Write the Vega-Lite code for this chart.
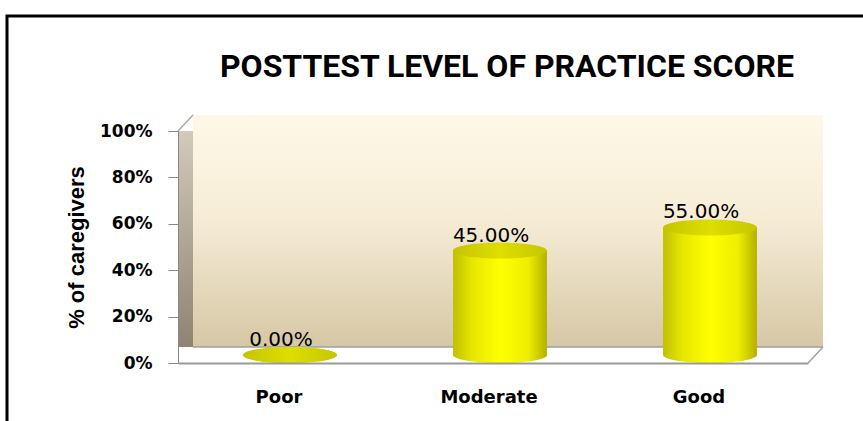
{
  "$schema": "https://vega.github.io/schema/vega-lite/v6.json",
  "width": 630,
  "height": 232,
  "autosize": {"type": "none"},
  "padding": {"left": 178, "top": 131, "right": 55, "bottom": 58},
  "background": "white",
  "config": {"view": {"stroke": null}},
  "title": {
    "text": "POSTTEST LEVEL OF PRACTICE SCORE",
    "font": "Roboto",
    "fontSize": 32,
    "fontWeight": "bold",
    "color": "black",
    "anchor": "middle",
    "dx": 14,
    "baseline": "alphabetic",
    "offset": -94
  },
  "data": {"values": [
    {"level": "Poor", "pct": 0},
    {"level": "Moderate", "pct": 0.45},
    {"level": "Good", "pct": 0.55}
  ]},
  "layer": [
    {
      "data": {"values": [{}]},
      "mark": {"type": "rect", "filled": false, "stroke": "black", "strokeWidth": 3, "width": 972, "yOffset": -115, "y2Offset": 80},
      "encoding": {
        "x": {"datum": "Moderate", "type": "nominal"},
        "y": {"datum": 1, "type": "quantitative"},
        "y2": {"datum": 0}
      }
    },
    {
      "data": {"values": [{}]},
      "mark": {"type": "rect", "width": 630, "fill": {"gradient": "linear", "x1": 0, "y1": 0, "x2": 0, "y2": 1, "stops": [{"offset": 0, "color": "#d2cabb"}, {"offset": 1, "color": "#8a7e6c"}]}},
      "encoding": {
        "x": {"datum": "Moderate", "type": "nominal"},
        "y": {"datum": 1, "type": "quantitative"},
        "y2": {"datum": 0}
      }
    },
    {
      "data": {"values": [{}]},
      "mark": {"type": "rect", "width": 630, "xOffset": 15, "yOffset": -16, "y2Offset": -16, "fill": {"gradient": "linear", "x1": 0, "y1": 0, "x2": 0, "y2": 1, "stops": [{"offset": 0, "color": "#fff8e8"}, {"offset": 0.45, "color": "#f6ecd6"}, {"offset": 1, "color": "#d6c7a5"}]}},
      "encoding": {
        "x": {"datum": "Moderate", "type": "nominal"},
        "y": {"datum": 1, "type": "quantitative"},
        "y2": {"datum": 0}
      }
    },
    {
      "data": {"values": [{}]},
      "mark": {"type": "rect", "fill": "white", "width": 645, "xOffset": 7.5, "y2Offset": -16},
      "encoding": {
        "x": {"datum": "Moderate", "type": "nominal"},
        "y": {"datum": 0, "type": "quantitative"},
        "y2": {"datum": 0}
      }
    },
    {
      "data": {"values": [{}]},
      "mark": {"type": "rect", "filled": false, "stroke": "#a0a0a0", "strokeWidth": 1.5, "width": 630, "xOffset": 15, "yOffset": -16, "y2Offset": -16},
      "encoding": {
        "x": {"datum": "Moderate", "type": "nominal"},
        "y": {"datum": 0, "type": "quantitative"},
        "y2": {"datum": 0}
      }
    },
    {
      "data": {"values": [{}]},
      "mark": {"type": "rule", "stroke": "#a0a0a0", "strokeWidth": 1.5, "xOffset": 105, "x2Offset": 120, "y2Offset": -16},
      "encoding": {
        "x": {"datum": "Good", "type": "nominal"},
        "x2": {"datum": "Good"},
        "y": {"datum": 0, "type": "quantitative"},
        "y2": {"datum": 0}
      }
    },
    {
      "data": {"values": [{}]},
      "mark": {"type": "rule", "stroke": "#b0a898", "strokeWidth": 1.5, "xOffset": -105, "x2Offset": -90, "y2Offset": -16},
      "encoding": {
        "x": {"datum": "Poor", "type": "nominal"},
        "x2": {"datum": "Poor"},
        "y": {"datum": 1, "type": "quantitative"},
        "y2": {"datum": 1}
      }
    },
    {
      "mark": {"type": "point", "shape": "M-1,0A1,0.17,0,1,1,1,0A1,0.17,0,1,1,-1,0Z", "size": 8836, "filled": true, "opacity": 1, "strokeWidth": 0, "xOffset": 7, "yOffset": -8,
        "fill": {"gradient": "linear", "x1": 0, "y1": 0, "x2": 1, "y2": 0, "stops": [{"offset": 0, "color": "#c0c000"}, {"offset": 0.2, "color": "#e6e600"}, {"offset": 0.5, "color": "#ffff00"}, {"offset": 0.8, "color": "#eeee00"}, {"offset": 1, "color": "#b4b000"}]}},
      "encoding": {
        "x": {"field": "level", "type": "nominal", "sort": ["Poor", "Moderate", "Good"]},
        "y": {"datum": 0, "type": "quantitative"}
      }
    },
    {
      "mark": {"type": "bar", "width": {"band": 0.447}, "xOffset": 7, "yOffset": -8, "y2Offset": -8,
        "fill": {"gradient": "linear", "x1": 0, "y1": 0, "x2": 1, "y2": 0, "stops": [{"offset": 0, "color": "#c0c000"}, {"offset": 0.2, "color": "#e6e600"}, {"offset": 0.5, "color": "#ffff00"}, {"offset": 0.8, "color": "#eeee00"}, {"offset": 1, "color": "#b4b000"}]}},
      "encoding": {
        "x": {
          "field": "level", "type": "nominal", "sort": ["Poor", "Moderate", "Good"],
          "scale": {"paddingInner": 0, "paddingOuter": 0},
          "axis": {"title": null, "labelAngle": 0, "labelAlign": "center", "labelBaseline": "top", "labelOffset": -4, "labelFont": "DejaVu Sans", "labelFontSize": 18, "labelFontWeight": "bold", "labelColor": "black", "labelPadding": 25, "ticks": false, "tickSize": 0, "domainColor": "#9a9a9a", "domainWidth": 2, "zindex": 1}
        },
        "y": {
          "field": "pct", "type": "quantitative",
          "scale": {"domain": [0, 1], "nice": false},
          "axis": {"title": "% of caregivers", "titleFont": "Liberation Sans", "titleFontSize": 22, "titleFontWeight": "bold", "titleColor": "black", "titlePadding": 11,
            "format": ".0%", "values": [0, 0.2, 0.4, 0.6, 0.8, 1], "labelFont": "DejaVu Sans", "labelFontSize": 17, "labelFontWeight": "bold", "labelColor": "black", "labelPadding": 16,
            "tickSize": 10, "tickColor": "#888888", "domainColor": "#888888", "grid": false, "zindex": 1}
        }
      }
    },
    {
      "mark": {"type": "point", "shape": "M-1,0A1,0.17,0,1,1,1,0A1,0.17,0,1,1,-1,0Z", "size": 8836, "filled": true, "opacity": 1, "strokeWidth": 0, "xOffset": 7, "yOffset": -8,
        "fill": {"gradient": "linear", "x1": 0, "y1": 0, "x2": 1, "y2": 0, "stops": [{"offset": 0, "color": "#c4c400"}, {"offset": 0.5, "color": "#dede00"}, {"offset": 1, "color": "#c6c600"}]}},
      "encoding": {
        "x": {"field": "level", "type": "nominal", "sort": ["Poor", "Moderate", "Good"]},
        "y": {"field": "pct", "type": "quantitative"}
      }
    },
    {
      "mark": {"type": "text", "font": "DejaVu Sans", "fontSize": 20, "baseline": "alphabetic", "xOffset": -2, "yOffset": -17, "color": "black"},
      "encoding": {
        "x": {"field": "level", "type": "nominal", "sort": ["Poor", "Moderate", "Good"]},
        "y": {"field": "pct", "type": "quantitative"},
        "text": {"field": "pct", "type": "quantitative", "format": ".2%"}
      }
    }
  ]
}
